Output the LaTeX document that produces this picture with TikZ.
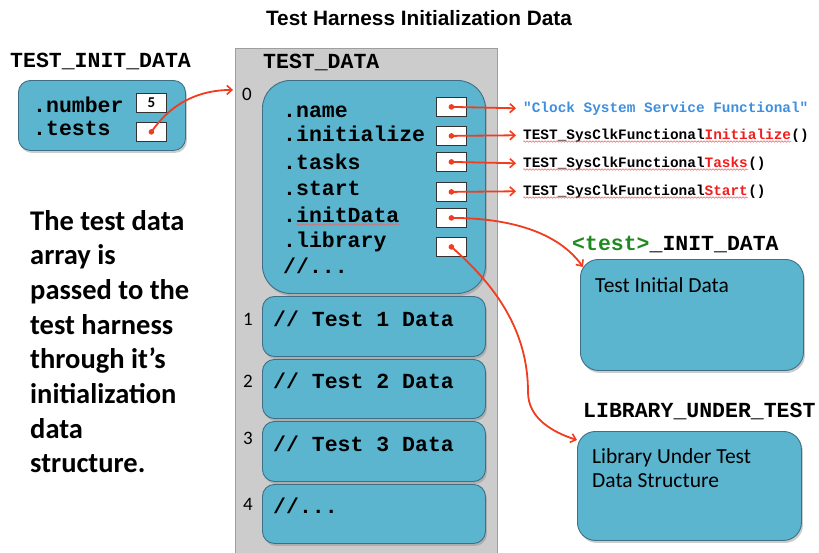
\documentclass[tikz,border=0pt]{standalone}
\usepackage{fontspec}
\setmainfont{Carlito}
\newfontfamily\codefont{Liberation Mono}
\newfontfamily\titlefont{Liberation Sans}
\usetikzlibrary{arrows.meta,shadows,decorations.pathmorphing}
\definecolor{boxblue}{HTML}{5BB5CF}
\definecolor{boxedge}{HTML}{3F6F86}
\definecolor{contgray}{HTML}{CCCCCC}
\definecolor{contedge}{HTML}{9E9E9E}
\definecolor{ptrred}{HTML}{F23C1F}
\definecolor{strblue}{HTML}{3E8FE0}
\definecolor{tgreen}{HTML}{1F8A1F}
\definecolor{fnred}{HTML}{F01E1E}
\begin{document}
\begin{tikzpicture}[x=1pt,y=-1pt,
  bluebox/.style={draw=boxedge, line width=0.9pt, fill=boxblue, inner sep=0, anchor=north west,
    drop shadow={shadow xshift=1.5pt, shadow yshift=-2.5pt, opacity=0.4}},
  slot/.style={draw=black!80, fill=white, line width=0.8pt, minimum width=30pt, minimum height=19pt, inner sep=0, anchor=north west},
  code/.style={font=\codefont\bfseries\fontsize{21.5}{24}\selectfont, inner sep=0, anchor=base west},
  scode/.style={font=\codefont\bfseries\fontsize{14.4}{16}\selectfont, inner sep=0, anchor=base west},
  num/.style={font=\fontsize{19}{20}\selectfont, inner sep=0, anchor=base west},
  btext/.style={font=\fontsize{21.5}{24}\selectfont, inner sep=0, anchor=base west},
  ptext/.style={font=\bfseries\fontsize{28.5}{34.7}\selectfont, inner sep=0, anchor=base west},
  ptr/.style={draw=ptrred, line width=1.8pt, -{Straight Barb[length=5pt,width=9pt,line width=1.6pt]}},
  squig/.style={draw=fnred!70, line width=0.5pt, decorate, decoration={snake, amplitude=0.8pt, segment length=3pt}}
]
\useasboundingbox (0,0) rectangle (819,552);

% title
\node[font=\titlefont\bfseries\fontsize{20.8}{24}\selectfont, inner sep=0, anchor=base] (title) at (419,25) {Test Harness Initialization Data};

% TEST_INIT_DATA
\node[code] (tidlbl) at (10,67) {TEST\_INIT\_DATA};
\node[bluebox, minimum width=167pt, minimum height=70pt, rounded corners=12pt] (tid) at (18,80) {};
\node[code] (tnum) at (33,112) {.number};
\node[code] (ttests) at (33,135) {.tests};
\node[slot, font=\bfseries\fontsize{15}{16}\selectfont] (numslot) at (136,93) {5};
\node[slot] (testslot) at (136,122) {};

% container
\node[draw=contedge, fill=contgray, line width=1pt, minimum width=262pt, minimum height=520pt, anchor=north west, inner sep=0] (cont) at (235,48) {};
\node[code] (tdlbl) at (263,68) {TEST\_DATA};

% element 0
\node[num] (zero) at (242,100) {0};
\node[bluebox, minimum width=223pt, minimum height=213pt, rounded corners=28pt] (e0) at (262,80) {};
\node[code] (fname) at (283,117) {.name};
\node[code] (finit) at (283,141) {.initialize};
\node[code] (ftasks) at (283,169) {.tasks};
\node[code] (fstart) at (283,195) {.start};
\node[code] (fidata) at (283,222) {.initData};
\node[code] (flib) at (283,247) {.library};
\node[code] (fmore) at (283,273) {//...};
\draw[squig] ([xshift=13pt,yshift=-2.5pt]fidata.base west) -- ([yshift=-2.5pt]fidata.base east);

\node[slot] (s1) at (436,97) {};
\node[slot] (s2) at (436,126) {};
\node[slot] (s3) at (436,152) {};
\node[slot] (s4) at (436,182) {};
\node[slot] (s5) at (436,208) {};
\node[slot] (s6) at (436,237) {};

% elements 1-4
\node[bluebox, minimum width=223pt, minimum height=60pt, rounded corners=12pt] (e1) at (262,296) {};
\node[bluebox, minimum width=223pt, minimum height=59pt, rounded corners=12pt] (e2) at (262,359) {};
\node[bluebox, minimum width=223pt, minimum height=60pt, rounded corners=12pt] (e3) at (262,421) {};
\node[bluebox, minimum width=223pt, minimum height=59pt, rounded corners=12pt] (e4) at (262,484) {};
\node[num] (one) at (243,325) {1};
\node[num] (two) at (243,387) {2};
\node[num] (three) at (243,444) {3};
\node[num] (four) at (243,510) {4};
\node[code] (d1) at (273,326) {// Test 1 Data};
\node[code] (d2) at (273,388) {// Test 2 Data};
\node[code] (d3) at (273,451) {// Test 3 Data};
\node[code] (d4) at (273,513) {//...};

% pointed-to values
\node[scode, text=strblue] (vname) at (523,112) {"Clock System Service Functional"};
\node[scode] (vinit) at (523,139) {TEST\_SysClkFunctional\textcolor{fnred}{Initialize}};
\node[scode] (vinitp) at (vinit.base east) {()};
\node[scode] (vtasks) at (523,167) {TEST\_SysClkFunctional\textcolor{fnred}{Tasks}};
\node[scode] (vtasksp) at (vtasks.base east) {()};
\node[scode] (vstart) at (523,195) {TEST\_SysClkFunctional\textcolor{fnred}{Start}};
\node[scode] (vstartp) at (vstart.base east) {()};
\foreach \n in {vinit,vtasks,vstart}
  \draw[squig] ([yshift=-2.5pt]\n.base west) -- ([yshift=-2.5pt]\n.base east);

% right boxes
\node[code] (ilbl) at (572,250) {\textcolor{tgreen}{<test>}\_INIT\_DATA};
\node[bluebox, minimum width=223pt, minimum height=111pt, rounded corners=18pt] (ibox) at (580,259) {};
\node[btext] (itext) at (595,292) {Test Initial Data};
\node[code] (llbl) at (583,417) {LIBRARY\_UNDER\_TEST};
\node[bluebox, minimum width=224pt, minimum height=109pt, rounded corners=18pt] (lbox) at (577,431) {};
\node[btext] (ltext1) at (592,463) {Library Under Test};
\node[btext] (ltext2) at (592,487) {Data Structure};

% left paragraph
\node[ptext] (p1) at (30,230) {The test data};
\node[ptext] (p2) at (30,264.7) {array is};
\node[ptext] (p3) at (30,299.4) {passed to the};
\node[ptext] (p4) at (30,334.1) {test harness};
\node[ptext] (p5) at (30,368.8) {through it’s};
\node[ptext] (p6) at (30,403.5) {initialization};
\node[ptext] (p7) at (30,438.2) {data};
\node[ptext] (p8) at (30,472.9) {structure.};

% pointers
\draw[ptr] (testslot.center) .. controls (172,102) and (200,90) .. ([shift={(-9,-4)}]zero.west);
\draw[ptr] (s1.center) -- ([xshift=-7pt]vname.west);
\draw[ptr] (s2.center) -- ([xshift=-7pt]vinit.west);
\draw[ptr] (s3.center) -- ([xshift=-7pt]vtasks.west);
\draw[ptr] (s4.center) -- ([xshift=-7pt]vstart.west);
\draw[ptr] (s5.center) .. controls (510,218) and (558,232) .. ([shift={(3,8)}]ibox.north west);
\draw[ptr] (s6.center) .. controls (495,285) and (528,330) .. (528,392) .. controls (528,418) and (552,432) .. ([shift={(0,9)}]lbox.north west);
\foreach \s in {testslot,s1,s2,s3,s4,s5,s6}
  \fill[ptrred] (\s.center) circle (2.8);
\end{tikzpicture}
\end{document}
